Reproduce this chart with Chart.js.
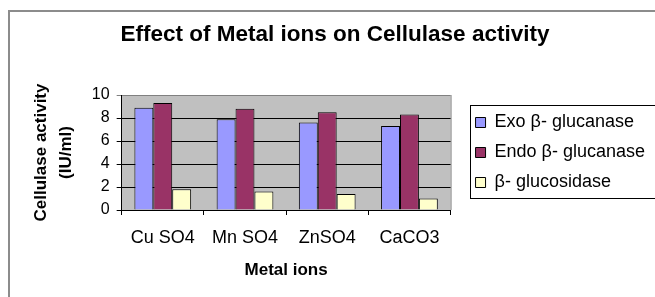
<!DOCTYPE html>
<html>
<head>
<meta charset="utf-8">
<script src="https://cdn.jsdelivr.net/npm/chart.js@4/dist/chart.umd.min.js"></script>
<style>
  body { margin: 0; background: #fff; overflow: hidden; }
  #frame { position: absolute; left: 8px; top: 10px; width: 700px; height: 320px; border: 2px solid #8c8c8c; }
  #wrap { position: absolute; left: 0; top: 0; width: 655px; height: 297px; }
</style>
</head>
<body>
<div id="frame"></div>
<div id="wrap"><canvas id="chart" width="655" height="297"></canvas></div>
<script>
// data
const metals = ['Cu SO4', 'Mn SO4', 'ZnSO4', 'CaCO3'];
const exoGlucanase = [8.9, 7.9, 7.6, 7.3];
const endoGlucanase = [9.3, 8.8, 8.5, 8.3];
const glucosidase = [1.8, 1.6, 1.4, 1.0];
const seriesNames = ['Exo β- glucanase', 'Endo β- glucanase', 'β- glucosidase'];
const seriesColors = ['#9999ff', '#993366', '#ffffcc'];
const yMin = 0, yMax = 10, yStep = 2;

Chart.defaults.font.family = "Arial, 'Liberation Sans', sans-serif";
Chart.defaults.color = '#000';

// grey plot background + right edge
const plotFrame = {
  id: 'plotFrame',
  beforeDraw(chart) {
    const { ctx, chartArea: a } = chart;
    ctx.save();
    ctx.fillStyle = '#c0c0c0';
    ctx.fillRect(a.left, a.top, a.right - a.left, a.bottom - a.top);
    ctx.strokeStyle = '#808080';
    ctx.lineWidth = 1;
    ctx.beginPath();
    ctx.moveTo(a.right + 0.5, a.top);
    ctx.lineTo(a.right + 0.5, a.bottom);
    ctx.stroke();
    ctx.restore();
  }
};

// box round the legend
const legendBox = {
  id: 'legendBox',
  afterDraw(chart) {
    const boxes = chart.legend.legendHitBoxes;
    if (!boxes || !boxes.length) return;
    const left = Math.min(...boxes.map(b => b.left)) - 6;
    const right = Math.max(...boxes.map(b => b.left + b.width)) + 10;
    const top = boxes[0].top - 9;
    const last = boxes[boxes.length - 1];
    const bottom = last.top + last.height + 6;
    const ctx = chart.ctx;
    ctx.save();
    ctx.strokeStyle = '#000';
    ctx.lineWidth = 1;
    ctx.strokeRect(Math.round(left) + 0.5, Math.round(top) + 0.5, Math.round(right - left), Math.round(bottom - top));
    ctx.restore();
  }
};

new Chart(document.getElementById('chart'), {
  type: 'bar',
  data: {
    labels: metals,
    datasets: [
      { label: seriesNames[0], data: exoGlucanase, backgroundColor: seriesColors[0] },
      { label: seriesNames[1], data: endoGlucanase, backgroundColor: seriesColors[1] },
      { label: seriesNames[2], data: glucosidase, backgroundColor: seriesColors[2] }
    ]
  },
  options: {
    responsive: false,
    animation: false,
    layout: { padding: { left: 15, right: 0, top: 0, bottom: 0 } },
    datasets: {
      bar: { categoryPercentage: 0.69, barPercentage: 1, borderColor: '#000', borderWidth: 1 }
    },
    scales: {
      x: {
        grid: { display: true, offset: true, drawOnChartArea: false, drawTicks: true, tickLength: 5, color: '#000' },
        border: { display: true, color: '#000' },
        ticks: { font: { size: 18 }, padding: 12, maxRotation: 0 },
        title: { display: true, text: 'Metal ions', font: { size: 17, weight: 'bold' }, padding: { top: 0, bottom: 16 } }
      },
      y: {
        min: yMin,
        max: yMax,
        grid: {
          color: c => (c.tick && c.tick.value === yMax ? '#808080' : '#000'),
          tickLength: 5
        },
        border: { display: true, color: '#000' },
        ticks: { stepSize: yStep, autoSkip: false, font: { size: 16 }, padding: 7 },
        title: {
          display: true,
          text: ['Cellulase activity', '(IU/ml)'],
          font: { size: 17, weight: 'bold', lineHeight: 1.45 },
          padding: { top: 14, bottom: 10 }
        }
      },
      gap: {
        position: 'right',
        display: true,
        grid: { display: false },
        border: { display: false },
        ticks: { display: false },
        afterFit: s => { s.width = 13; }
      }
    },
    plugins: {
      title: {
        display: true,
        text: 'Effect of Metal ions on Cellulase activity',
        font: { size: 22.5, weight: 'bold' },
        padding: { top: 21, bottom: 47 }
      },
      legend: {
        position: 'right',
        fullSize: false,
        maxWidth: 240,
        labels: { boxWidth: 10, boxHeight: 10, padding: 12, font: { size: 18 } }
      },
      tooltip: { enabled: false }
    }
  },
  plugins: [plotFrame, legendBox]
});
</script>
</body>
</html>
